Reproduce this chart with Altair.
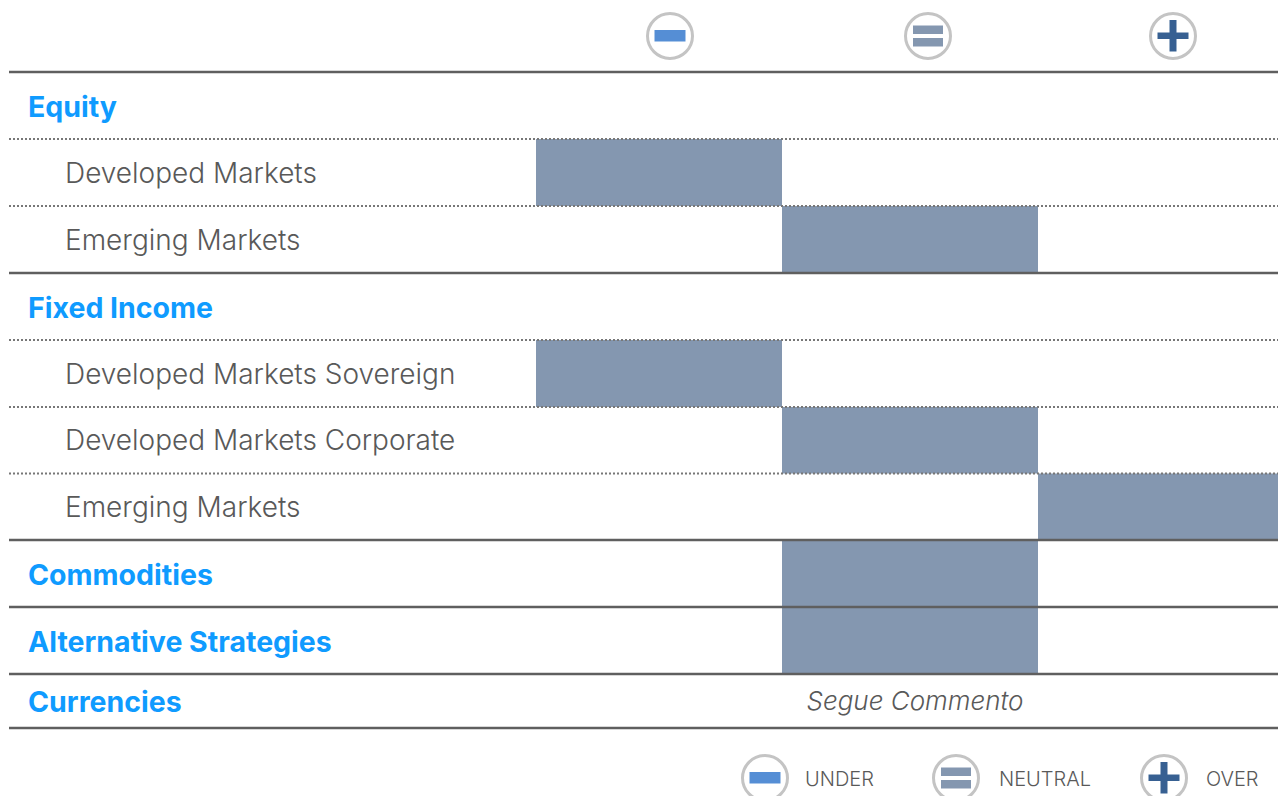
import altair as alt
import pandas as pd

# --- table content ---
labels = ["Equity", "Developed Markets", "Emerging Markets", "Fixed Income",
          "Developed Markets Sovereign", "Developed Markets Corporate", "Emerging Markets",
          "Commodities", "Alternative Strategies", "Currencies"]
is_group = [True, False, False, True, False, False, False, True, True, True]
# 0 = under, 1 = neutral, 2 = over, None = no bar
stance = [None, 0, 1, None, 0, 1, 2, 1, 1, None]
solid_lines = [0, 3, 7, 8, 9, 10]
dotted_lines = [1, 2, 4, 5, 6]
legend_labels = ["UNDER", "NEUTRAL", "OVER"]
comment = "Segue Commento"

W, H = 1270, 788
FONT = "Inter"
GREY = "#595959"
BLUE = "#0F9BFF"
BAR = "#8497B0"

x_scale = alt.Scale(domain=[0, 1, 2, 3], range=[528, 774, 1030, 1278], nice=False, zero=False)
y_scale = alt.Scale(domain=list(range(11)),
                    range=[64, 131, 198, 265, 332, 399, 465.5, 532, 599, 666, 720],
                    nice=False, zero=False)
X = lambda f: alt.X(f, type="quantitative", scale=x_scale, axis=None)
Y = lambda f: alt.Y(f, type="quantitative", scale=y_scale, axis=None)

rows = pd.DataFrame({"label": labels, "group": is_group, "stance": stance})
rows["row"] = range(len(labels))
rows["mid"] = rows["row"] + 0.5
rows["row2"] = rows["row"] + 1
bars_df = rows.dropna(subset=["stance"]).copy()
bars_df["stance2"] = bars_df["stance"] + 1

bars = alt.Chart(bars_df).mark_rect(color=BAR).encode(
    x=X("stance"), x2="stance2", y=Y("row"), y2="row2")

solid = alt.Chart(pd.DataFrame({"b": solid_lines})).mark_rule(color="#5F5F5F", strokeWidth=2.6).encode(
    x=alt.value(1), x2=alt.value(1278), y=Y("b"))
dotted = alt.Chart(pd.DataFrame({"b": dotted_lines})).mark_rule(
    color="#777777", strokeWidth=2, strokeDash=[2, 2]).encode(
    x=alt.value(1), x2=alt.value(1278), y=Y("b"))

groups = alt.Chart(rows[rows.group]).mark_text(
    align="left", baseline="middle", font=FONT, fontSize=28.5, fontWeight=700, color=BLUE, dy=2).encode(
    x=alt.value(20), y=Y("mid"), text="label")
subs = alt.Chart(rows[~rows.group]).mark_text(
    align="left", baseline="middle", font=FONT, fontSize=28, fontWeight=300, color=GREY, dy=2).encode(
    x=alt.value(57), y=Y("mid"), text="label")
comment_t = alt.Chart(pd.DataFrame({"t": [comment], "r": [9.5]})).mark_text(
    align="center", baseline="middle", font=FONT, fontSize=26, fontStyle="italic", fontWeight=300, color=GREY, dy=1).encode(
    x=alt.value(907), y=Y("r"), text="t")


def rect(x0, x1, y0, y1, color):
    return alt.Chart(pd.DataFrame({"a": [0]})).mark_rect(color=color).encode(
        x=alt.value(x0 - 8), x2=alt.value(x1 - 8), y=alt.value(y0 - 8), y2=alt.value(y1 - 8))


def ring(cx, cy):
    return alt.Chart(pd.DataFrame({"a": [0]})).mark_point(
        shape="circle", size=45 * 45, filled=False, color="#C4C4C4", strokeWidth=3, opacity=1).encode(
        x=alt.value(cx - 8), y=alt.value(cy - 8))


def minus(cx, cy):
    return [ring(cx, cy), rect(cx - 15.5, cx + 15.5, cy - 6, cy + 5.5, "#558ED5")]


def equal(cx, cy):
    return [ring(cx, cy),
            rect(cx - 15, cx + 15, cy - 10.5, cy - 2, BAR),
            rect(cx - 15, cx + 15, cy + 2, cy + 10.5, BAR)]


def plus(cx, cy):
    return [ring(cx, cy),
            rect(cx - 15.5, cx + 15.5, cy - 3.5, cy + 3, "#376092"),
            rect(cx - 3.5, cx + 3.5, cy - 16, cy + 15.5, "#376092")]


icons = minus(670, 36) + equal(928, 36) + plus(1173, 36) + minus(765, 778) + equal(956, 778) + plus(1164, 778)

legend_df = pd.DataFrame({"t": legend_labels, "px": [797, 991, 1198]})
legend_text = alt.Chart(legend_df).mark_text(
    align="left", baseline="middle", font=FONT, fontSize=20, fontWeight=300, color=GREY).encode(
    x=alt.X("px:Q", scale=None, axis=None), y=alt.value(772), text="t")

chart = alt.layer(bars, solid, dotted, groups, subs, comment_t, *icons, legend_text).properties(
    width=W, height=H, padding=0, autosize=alt.AutoSizeParams(type="none")
).configure_view(stroke=None)

chart.save("out.html", embed_options={"renderer": "svg", "actions": False})
